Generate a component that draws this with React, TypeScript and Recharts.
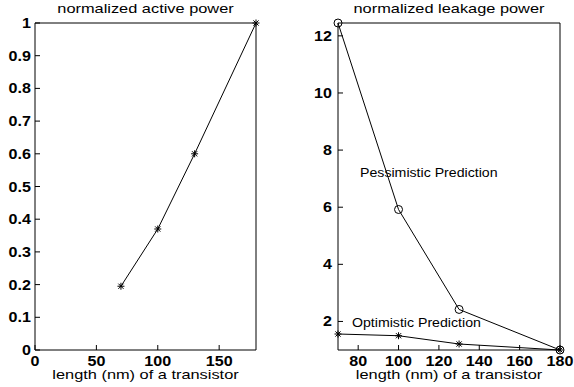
import { LineChart, Line, XAxis, YAxis, ReferenceDot } from "recharts";

// transistor length (nm)
const lengths = [70, 100, 130, 180];
const activePower = [0.195, 0.37, 0.6, 1.0];
const pessimistic = [12.45, 5.92, 2.42, 1.0];
const optimistic = [1.56, 1.5, 1.21, 1.0];

const activeXTicks = [0, 50, 100, 150];
const activeYTicks = [0, 0.1, 0.2, 0.3, 0.4, 0.5, 0.6, 0.7, 0.8, 0.9, 1];
const leakXTicks = [80, 100, 120, 140, 160, 180];
const leakYTicks = [2, 4, 6, 8, 10, 12];

const activeData = lengths.map((len, i) => ({ len, active: activePower[i] }));
const leakData = lengths.map((len, i) => ({
  len,
  pess: pessimistic[i],
  opt: optimistic[i],
}));

const FONT = "'Liberation Sans', Arial, Helvetica, sans-serif";

// the original figure's text is stretched sideways, so scale x a little
const Wide = (p: {
  x: number;
  y: number;
  sx: number;
  size: number;
  bold?: boolean;
  anchor?: "start" | "middle" | "end";
  children: any;
}) => (
  <text
    transform={`translate(${p.x},${p.y}) scale(${p.sx},1)`}
    x={0}
    y={0}
    textAnchor={p.anchor || "start"}
    fill="#000"
    fontSize={p.size}
    fontWeight={p.bold ? "bold" : "normal"}
    fontFamily={FONT}
  >
    {p.children}
  </text>
);

const XTick = (props: any) => (
  <Wide x={props.x} y={props.y + 16} sx={1.15} size={14} bold anchor="middle">
    {props.payload.value}
  </Wide>
);

const YTick = (props: any) => (
  <Wide x={props.x} y={props.y + 5} sx={1.15} size={14} bold anchor="end">
    {props.payload.value}
  </Wide>
);

const axisTitle = (text: string) => (props: any) => {
  const vb = props.viewBox;
  return (
    <Wide x={vb.x + vb.width / 2} y={vb.y + vb.height - 8} sx={1.26} size={13} anchor="middle">
      {text}
    </Wide>
  );
};

const plotTitle = (text: string) => (props: any) => {
  const vb = props.viewBox;
  return (
    <Wide x={vb.x + vb.width / 2} y={vb.y - 9} sx={1.26} size={13} anchor="middle">
      {text}
    </Wide>
  );
};

const note = (text: string) => (props: any) => {
  const vb = props.viewBox;
  return (
    <Wide x={vb.x} y={vb.y} sx={1.09} size={13}>
      {text}
    </Wide>
  );
};

const StarDot = (props: any) => {
  const { cx, cy } = props;
  if (cx == null || cy == null) return null;
  const r = 3.5;
  const d = 2.6;
  return (
    <g stroke="#000" strokeWidth={1}>
      <line x1={cx - r} y1={cy} x2={cx + r} y2={cy} />
      <line x1={cx} y1={cy - r} x2={cx} y2={cy + r} />
      <line x1={cx - d} y1={cy - d} x2={cx + d} y2={cy + d} />
      <line x1={cx - d} y1={cy + d} x2={cx + d} y2={cy - d} />
    </g>
  );
};

const CircleDot = (props: any) => {
  const { cx, cy } = props;
  if (cx == null || cy == null) return null;
  return <circle cx={cx} cy={cy} r={4} fill="none" stroke="#000" strokeWidth={1} />;
};

export default function App() {
  return (
    <div
      style={{
        position: "absolute",
        left: 0,
        top: 0,
        width: 574,
        height: 387,
        display: "flex",
        background: "#fff",
        fontFamily: FONT,
      }}
    >
      <LineChart
        width={287}
        height={387}
        data={activeData}
        margin={{ top: 22, right: 30, bottom: 0, left: 0 }}
      >
        <XAxis
          dataKey="len"
          type="number"
          domain={[0, 180]}
          ticks={activeXTicks}
          interval={0}
          height={37}
          stroke="#000"
          tickSize={-5}
          tickMargin={5}
          tick={<XTick />}
          label={{ content: axisTitle("length (nm) of a transistor") }}
        />
        <XAxis
          xAxisId="top"
          orientation="top"
          dataKey="len"
          type="number"
          domain={[0, 180]}
          ticks={activeXTicks}
          interval={0}
          height={1}
          stroke="#000"
          tickSize={-5}
          tick={false}
          label={{ content: plotTitle("normalized active power") }}
        />
        <YAxis
          type="number"
          domain={[0, 1]}
          ticks={activeYTicks}
          interval={0}
          width={35}
          stroke="#000"
          tickSize={-5}
          tickMargin={9}
          tick={<YTick />}
        />
        <YAxis
          yAxisId="right"
          orientation="right"
          type="number"
          domain={[0, 1]}
          ticks={activeYTicks}
          interval={0}
          width={1}
          stroke="#000"
          tickSize={-5}
          tick={false}
        />
        <Line
          type="linear"
          dataKey="active"
          stroke="#000"
          strokeWidth={1}
          dot={<StarDot />}
          activeDot={false}
          isAnimationActive={false}
        />
      </LineChart>

      <LineChart
        width={287}
        height={387}
        data={leakData}
        margin={{ top: 22, right: 13, bottom: 0, left: 0 }}
      >
        <XAxis
          dataKey="len"
          type="number"
          domain={[70, 180]}
          ticks={leakXTicks}
          interval={0}
          height={37}
          stroke="#000"
          tickSize={-5}
          tickMargin={5}
          tick={<XTick />}
          label={{ content: axisTitle("length (nm) of a transistor") }}
        />
        <XAxis
          xAxisId="top"
          orientation="top"
          dataKey="len"
          type="number"
          domain={[70, 180]}
          ticks={leakXTicks}
          interval={0}
          height={1}
          stroke="#000"
          tickSize={-5}
          tick={false}
          label={{ content: plotTitle("normalized leakage power") }}
        />
        <YAxis
          type="number"
          domain={[1, 12.45]}
          ticks={leakYTicks}
          interval={0}
          width={51}
          stroke="#000"
          tickSize={-5}
          tickMargin={11}
          tick={<YTick />}
        />
        <YAxis
          yAxisId="right"
          orientation="right"
          type="number"
          domain={[1, 12.45]}
          ticks={leakYTicks}
          interval={0}
          width={1}
          stroke="#000"
          tickSize={-5}
          tick={false}
        />
        <Line
          type="linear"
          dataKey="pess"
          stroke="#000"
          strokeWidth={1}
          dot={<CircleDot />}
          activeDot={false}
          isAnimationActive={false}
        />
        <Line
          type="linear"
          dataKey="opt"
          stroke="#000"
          strokeWidth={1}
          dot={<StarDot />}
          activeDot={false}
          isAnimationActive={false}
        />
        <ReferenceDot x={80.9} y={7.07} r={0} label={{ content: note("Pessimistic Prediction") }} />
        <ReferenceDot x={76.9} y={1.79} r={0} label={{ content: note("Optimistic Prediction") }} />
      </LineChart>
    </div>
  );
}
